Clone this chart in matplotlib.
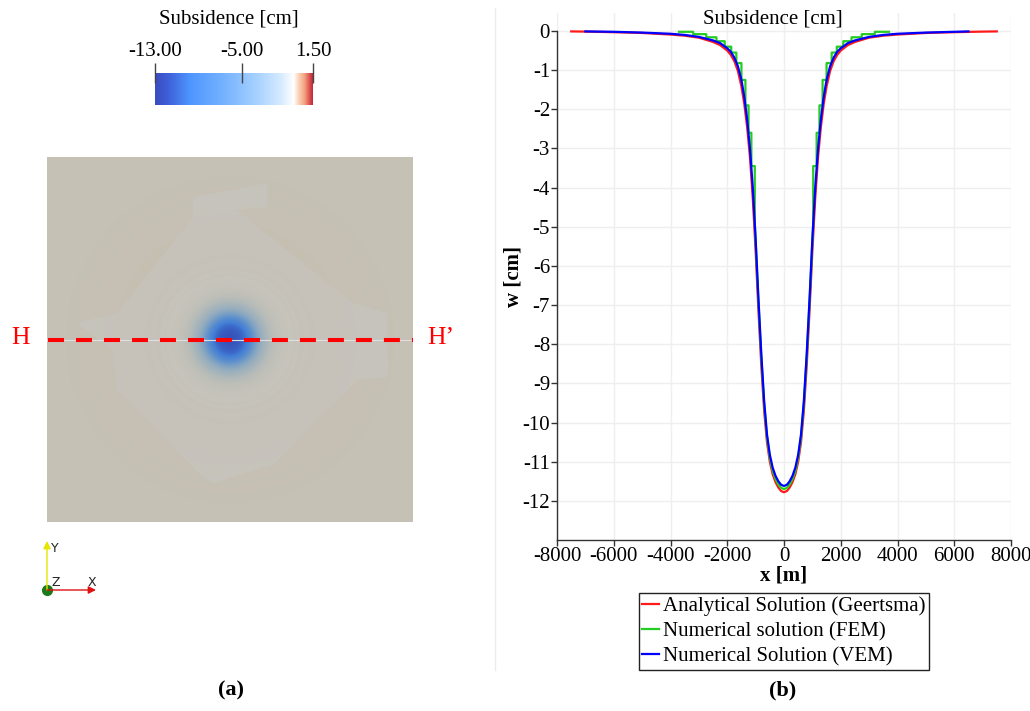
import numpy as np
import matplotlib
matplotlib.use("Agg")
import matplotlib.pyplot as plt
from matplotlib.colors import LinearSegmentedColormap, Normalize
from matplotlib.patches import Polygon

plt.rcParams["axes.unicode_minus"] = False
SERIF = ["Liberation Serif", "DejaVu Serif"]
plt.rcParams["font.family"] = SERIF

# ---------------------------------------------------------------- data
# profile along H-H' (x in m, subsidence w in cm)
x_ana = [-7500, -7000, -6000, -5000, -4000, -3500, -3000, -2500, -2250, -2000,
         -1875, -1750, -1625, -1500, -1400, -1300, -1200, -1100, -1000, -900,
         -800, -700, -600, -500, -400, -300, -200, -100, 0, 100, 200, 300, 400,
         500, 600, 700, 800, 900, 1000, 1100, 1200, 1300, 1400, 1500, 1625,
         1750, 1875, 2000, 2250, 2500, 3000, 3500, 4000, 5000, 6000, 7000, 7500]
w_ana = [-0.01, -0.015, -0.03, -0.05, -0.09, -0.12, -0.17, -0.28, -0.36, -0.50,
         -0.61, -0.77, -1.02, -1.42, -1.86, -2.45, -3.22, -4.28, -5.62, -7.15,
         -8.55, -9.70, -10.50, -11.00, -11.32, -11.52, -11.66, -11.75, -11.78,
         -11.75, -11.66, -11.52, -11.32, -11.00, -10.50, -9.70, -8.55, -7.15,
         -5.62, -4.28, -3.22, -2.45, -1.86, -1.42, -1.02, -0.77, -0.61, -0.50,
         -0.36, -0.28, -0.17, -0.12, -0.09, -0.05, -0.03, -0.015, -0.01]

x_vem = [-7000, -6000, -5000, -4000, -3500, -3000, -2500, -2250, -2000, -1875,
         -1750, -1625, -1500, -1400, -1300, -1200, -1100, -1000, -900, -800,
         -700, -600, -500, -400, -300, -200, -100, 0, 100, 200, 300, 400, 500,
         600, 700, 800, 900, 1000, 1100, 1200, 1300, 1400, 1500, 1625, 1750,
         1875, 2000, 2250, 2500, 3000, 3500, 4000, 5000, 6000, 6500]
w_vem = [-0.01, -0.02, -0.04, -0.07, -0.10, -0.15, -0.24, -0.31, -0.44, -0.53,
         -0.68, -0.90, -1.25, -1.68, -2.25, -3.00, -4.00, -5.30, -6.85, -8.25,
         -9.45, -10.30, -10.82, -11.15, -11.36, -11.50, -11.59, -11.62, -11.59,
         -11.50, -11.36, -11.15, -10.82, -10.30, -9.45, -8.25, -6.85, -5.30,
         -4.00, -3.00, -2.25, -1.68, -1.25, -0.90, -0.68, -0.53, -0.44, -0.31,
         -0.24, -0.15, -0.10, -0.07, -0.04, -0.02, -0.01]

# FEM: cell-wise constant on the coarse outer cells, smooth near the bowl
x_fem = [-3700, -3200, -3200, -2740, -2740, -2380, -2380, -2090, -2090, -1860,
         -1860, -1680, -1680, -1500, -1500, -1360, -1360, -1250, -1250, -1150,
         -1150, -1030, -1030, -1000, -900, -800, -700, -600, -500, -400, -300,
         -200, -100, 0, 100, 200, 300, 400, 500, 600, 700, 800, 900, 1000,
         1030, 1030, 1150, 1150, 1250, 1250, 1360, 1360, 1500, 1500, 1680,
         1680, 1860, 1860, 2090, 2090, 2380, 2380, 2740, 2740, 3200, 3200, 3700]
w_fem = [-0.02, -0.02, -0.08, -0.08, -0.16, -0.16, -0.26, -0.26, -0.40, -0.40,
         -0.55, -0.55, -0.82, -0.82, -1.25, -1.25, -1.90, -1.90, -2.60, -2.60,
         -3.45, -3.45, -4.92, -5.38, -6.93, -8.33, -9.53, -10.38, -10.90,
         -11.23, -11.44, -11.58, -11.67, -11.70, -11.67, -11.58, -11.44, -11.23,
         -10.90, -10.38, -9.53, -8.33, -6.93, -5.38, -4.92, -3.45, -3.45, -2.60,
         -2.60, -1.90, -1.90, -1.25, -1.25, -0.82, -0.82, -0.55, -0.55, -0.40,
         -0.40, -0.26, -0.26, -0.16, -0.16, -0.08, -0.08, -0.02, -0.02]

x_ticks = [-8000, -6000, -4000, -2000, 0, 2000, 4000, 6000, 8000]
y_ticks = [0, -1, -2, -3, -4, -5, -6, -7, -8, -9, -10, -11, -12]
cbar_ticks = [-13.0, -5.0, 1.5]
labels = ["Analytical Solution (Geertsma)", "Numerical solution (FEM)",
          "Numerical Solution (VEM)"]
colors = ["#ff1a1a", "#22cc22", "#0000ff"]

W, H = 1030, 711
fig = plt.figure(figsize=(W / 100, H / 100), dpi=100)


def px_box(x0, y0, x1, y1):
    return [x0 / W, 1 - y1 / H, (x1 - x0) / W, (y1 - y0) / H]


# ---------------------------------------------------------------- colormap
cmap_cb = LinearSegmentedColormap.from_list("subs", [
    (0.0, "#3b4cc0"), (0.08, "#3e5fd8"), (0.22, "#4e96ff"), (0.45, "#78b4ff"),
    (0.65, "#a8d2ff"), (0.80, "#d6ebff"), (0.88, "#ffffff"), (0.91, "#fbd6bd"),
    (0.95, "#f4a080"), (0.985, "#d84a4a"), (1.0, "#c42a3c")])
vmin, vmax = -13.0, 1.5
norm = Normalize(vmin, vmax)

# ---------------------------------------------------------------- map (a)
ax_map = fig.add_axes(px_box(47, 157, 413, 522))
light = np.array([0.776, 0.761, 0.714])
ax_map.set_facecolor(light)
ax_map.set_xlim(-7500, 7500)
ax_map.set_ylim(-7500, 7500)

# slightly negative zone of the coarse mesh
zone = np.array([(193, 197), (220, 192), (267, 183), (267, 207), (237, 210),
                 (353, 303), (387, 313), (388, 377), (357, 380), (273, 465),
                 (213, 483), (203, 477), (117, 390), (112, 350), (77, 323),
                 (117, 313), (193, 217)], dtype=float)
zone_m = np.column_stack([(zone[:, 0] - 230) / 366 * 15000,
                          -(zone[:, 1] - 339.5) / 365 * 15000])
ax_map.add_patch(Polygon(zone_m, closed=True, facecolor="#c7c5bf",
                         edgecolor="none", zorder=1))

# radial field from the analytical profile, shaded like a lit surface
xa = np.array(x_ana, float)
wa = np.array(w_ana, float)
half = xa >= 0
g = np.linspace(-7500, 7500, 500)
GX, GY = np.meshgrid(g, g)
R = np.hypot(GX, GY)
field = np.interp(R, xa[half], wa[half])
rgba = cmap_cb(norm(field))
u = np.clip(-field / 11.8, 0, 1)[..., None]
shade = light * (1 - u) + 0.86 * u
rgba[..., :3] *= shade
rgba[..., 3] = np.clip(np.abs(field) / 0.7, 0, 1) ** 0.8
ax_map.imshow(rgba, extent=[-7500, 7500, -7500, 7500], origin="lower",
              interpolation="bilinear", zorder=2, aspect="auto")
ax_map.plot([-7500, 7500], [0, 0], color="#dedede", lw=0.8, zorder=3)
ax_map.plot([-7450, 7500], [0, 0], color="#ff0000", lw=2.9, zorder=4,
            linestyle=(0, (3.97, 2.98)), dash_capstyle="butt")
for s in ax_map.spines.values():
    s.set_visible(False)
ax_map.set_xticks([])
ax_map.set_yticks([])

# ---------------------------------------------------------------- colorbar
ax_cb = fig.add_axes(px_box(155, 73, 313, 105))
grad = np.linspace(vmin, vmax, 600)[None, :]
ax_cb.imshow(grad, aspect="auto", cmap=cmap_cb, norm=norm,
             extent=[vmin, vmax, 0, 1])
ax_cb.set_xlim(vmin, vmax)
for s in ax_cb.spines.values():
    s.set_visible(False)
ax_cb.set_yticks([])
ax_cb.xaxis.tick_top()
ax_cb.set_xticks(cbar_ticks)
ax_cb.set_xticklabels([f"{t:.2f}" for t in cbar_ticks])
ax_cb.tick_params(axis="x", direction="inout", length=14, width=1,
                  color="#444444", labelsize=15, pad=2)
fig.text(229 / W, 1 - 19 / H, "Subsidence [cm]", ha="center", va="center",
         fontsize=15, family=SERIF)

# ---------------------------------------------------------------- plot (b)
ax = fig.add_axes([557 / W, 1 - 540 / H, 454 / W, (540 - 13.4) / H])
l_ana, = ax.plot(x_ana, w_ana, color=colors[0], lw=1.6, label=labels[0],
                 clip_on=False, zorder=3)
l_fem, = ax.plot(x_fem, w_fem, color=colors[1], lw=1.6, label=labels[1],
                 clip_on=False, zorder=4)
l_vem, = ax.plot(x_vem, w_vem, color=colors[2], lw=1.6, label=labels[2],
                 clip_on=False, zorder=5)
ax.set_xlim(-8000, 8000)
ax.set_ylim(-13, 0.45)
ax.set_xticks(x_ticks)
ax.set_yticks(y_ticks)
ax.set_xticklabels([str(t) for t in x_ticks])
ax.set_yticklabels([str(t) for t in y_ticks])
ax.grid(True, color="#efefef", lw=1)
ax.set_axisbelow(True)
ax.spines["top"].set_visible(False)
ax.spines["right"].set_visible(False)
ax.spines["left"].set_bounds(-13, 0)
for s in ("left", "bottom"):
    ax.spines[s].set_color("#333333")
    ax.spines[s].set_linewidth(1)
ax.tick_params(direction="out", length=4, width=1, color="#333333",
               labelsize=15, pad=1)
ax.set_xlabel("x [m]", fontsize=15, fontweight="bold", labelpad=0)
ax.set_ylabel("w [cm]", fontsize=15, fontweight="bold", labelpad=-1)
fig.text(773 / W, 1 - 19 / H, "Subsidence [cm]", ha="center", va="center",
         fontsize=15, family=SERIF)

leg = fig.legend([l_ana, l_fem, l_vem], labels, loc="upper center",
                 bbox_to_anchor=(784 / W, 1 - 593 / H), fontsize=15,
                 frameon=True, fancybox=False, framealpha=1,
                 edgecolor="#222222", handlelength=0.8, handletextpad=0.2,
                 labelspacing=0.28, borderpad=0.15, borderaxespad=0)
leg.get_frame().set_linewidth(1)

# ---------------------------------------------------------------- overlay
ov = fig.add_axes([0, 0, 1, 1], zorder=10)
ov.set_xlim(0, W)
ov.set_ylim(H, 0)
ov.axis("off")
ov.text(21, 338, "H", color="#ff0000", fontsize=18.5, ha="center",
        va="center", family=SERIF)
ov.text(441, 338, "H\u2019", color="#ff0000", fontsize=18.5, ha="center",
        va="center", family=SERIF)
ov.plot([495, 495], [8, 670], color="#ececec", lw=1)
# orientation triad
ov.annotate("", xy=(47, 541), xytext=(47, 590),
            arrowprops=dict(arrowstyle="-|>", color="#e6e600", lw=1,
                            mutation_scale=11, shrinkA=0, shrinkB=0))
ov.annotate("", xy=(96, 590), xytext=(47, 590),
            arrowprops=dict(arrowstyle="-|>", color="#e01010", lw=1,
                            mutation_scale=11, shrinkA=0, shrinkB=0))
ov.plot(47, 590, "o", color="#1a7a1a", ms=7)
ov.text(55, 548, "Y", fontsize=9, ha="center", va="center",
        family="DejaVu Sans", color="#222222")
ov.text(56, 582, "Z", fontsize=9, ha="center", va="center",
        family="DejaVu Sans", color="#222222")
ov.text(92, 583, "X", fontsize=9, ha="center", va="center",
        family="DejaVu Sans", color="#222222")
ov.text(231, 690, "(a)", fontsize=16, fontweight="bold", ha="center",
        va="center", family=SERIF)
ov.text(783, 690, "(b)", fontsize=16, fontweight="bold", ha="center",
        va="center", family=SERIF)

fig.savefig("out.png", dpi=100)
